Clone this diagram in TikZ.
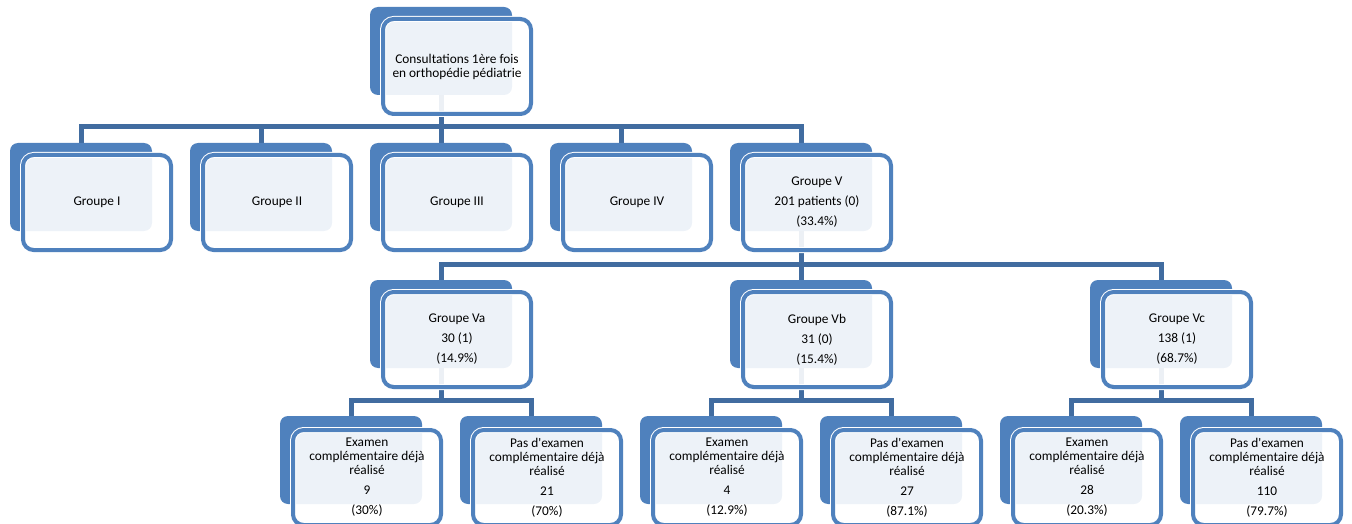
\documentclass[tikz,border=0pt]{standalone}
\usepackage{fontspec}
\setmainfont{Carlito}
\usepackage{tikz}
\usetikzlibrary{
    positioning,
    backgrounds
}
\definecolor{boxBlue}{RGB}{79, 129, 189}
\definecolor{linkBlue}{RGB}{65, 108, 160}

\begin{document}
\begin{tikzpicture}[x=0.75pt, y=-0.75pt,
    back/.style={fill=boxBlue, rounded corners=6pt, inner sep=0pt,
        minimum width=106.5pt, minimum height=66pt},
    front/.style={draw=boxBlue, line width=3pt, fill=white, fill opacity=0.9,
        text opacity=1, rounded corners=8pt, inner sep=0pt,
        preaction={draw=white, line width=4.5pt},
        minimum width=111pt, minimum height=71.25pt, align=center,
        font=\fontsize{10}{10.5}\selectfont},
    link/.style={draw=linkBlue, line width=3.75pt}
]
        \useasboundingbox (0,0) rectangle (1352,524);

        % top
        \node[back] (topB) at (441,51) {};
        \node[front] (top) at ([shift={(16,15.5)}]topB) {Consultations 1ère fois\\en orthopédie pédiatrie};

        % groupes
        \node[back] (gIB) at (81,187) {};
        \node[front] (gI) at ([shift={(16,15.5)}]gIB) {Groupe I};
        \node[back] (gIIB) at (261,187) {};
        \node[front] (gII) at ([shift={(16,15.5)}]gIIB) {Groupe II};
        \node[back] (gIIIB) at (441,187) {};
        \node[front] (gIII) at ([shift={(16,15.5)}]gIIIB) {Groupe III};
        \node[back] (gIVB) at (621,187) {};
        \node[front] (gIV) at ([shift={(16,15.5)}]gIVB) {Groupe IV};
        \node[back] (gVB) at (801,187) {};
        \node[front] (gV) at ([shift={(16,15.5)}]gVB) {Groupe V\\[4.5pt]201 patients (0)\\[4.5pt](33.4\%)};

        % sous-groupes
        \node[back] (gVaB) at (441,324) {};
        \node[front] (gVa) at ([shift={(16,15.5)}]gVaB) {Groupe Va\\[4.5pt]30 (1)\\[4.5pt](14.9\%)};
        \node[back] (gVbB) at (801,324) {};
        \node[front] (gVb) at ([shift={(16,15.5)}]gVbB) {Groupe Vb\\[4.5pt]31 (0)\\[4.5pt](15.4\%)};
        \node[back] (gVcB) at (1161,324) {};
        \node[front] (gVc) at ([shift={(16,15.5)}]gVcB) {Groupe Vc\\[4.5pt]138 (1)\\[4.5pt](68.7\%)};

        % examens
        \node[back] (exaB) at (351,460) {};
        \node[front] (exa) at ([shift={(16,17.5)}]exaB) {Examen\\complémentaire déjà\\réalisé\\[4.5pt]9\\[4.5pt](30\%)};
        \node[back] (noaB) at (531,460) {};
        \node[front] (noa) at ([shift={(16,17.5)}]noaB) {Pas d\textquotesingle examen\\complémentaire déjà\\réalisé\\[4.5pt]21\\[4.5pt](70\%)};
        \node[back] (exbB) at (711,460) {};
        \node[front] (exb) at ([shift={(16,17.5)}]exbB) {Examen\\complémentaire déjà\\réalisé\\[4.5pt]4\\[4.5pt](12.9\%)};
        \node[back] (nobB) at (891,460) {};
        \node[front] (nob) at ([shift={(16,17.5)}]nobB) {Pas d\textquotesingle examen\\complémentaire déjà\\réalisé\\[4.5pt]27\\[4.5pt](87.1\%)};
        \node[back] (excB) at (1071,460) {};
        \node[front] (exc) at ([shift={(16,17.5)}]excB) {Examen\\complémentaire déjà\\réalisé\\[4.5pt]28\\[4.5pt](20.3\%)};
        \node[back] (nocB) at (1251,460) {};
        \node[front] (noc) at ([shift={(16,17.5)}]nocB) {Pas d\textquotesingle examen\\complémentaire déjà\\réalisé\\[4.5pt]110\\[4.5pt](79.7\%)};

        % liens
        \begin{scope}[on background layer]
            \coordinate (bar1) at (0,127);
            \coordinate (bar2) at (0,264);
            \coordinate (bar3) at (0,400);
            \draw[link] (topB.center) -- (topB.center |- bar1) -| (gIB.north);
            \draw[link] (topB.center |- bar1) -| (gIIB.north);
            \draw[link] (topB.center |- bar1) -| (gIIIB.north);
            \draw[link] (topB.center |- bar1) -| (gIVB.north);
            \draw[link] (topB.center |- bar1) -| (gVB.north);
            \draw[link] (gVB.center) -- (gVB.center |- bar2) -| (gVaB.north);
            \draw[link] (gVB.center |- bar2) -| (gVbB.north);
            \draw[link] (gVB.center |- bar2) -| (gVcB.north);
            \draw[link] (gVaB.center) -- (gVaB.center |- bar3) -| (exaB.north);
            \draw[link] (gVaB.center |- bar3) -| (noaB.north);
            \draw[link] (gVbB.center) -- (gVbB.center |- bar3) -| (exbB.north);
            \draw[link] (gVbB.center |- bar3) -| (nobB.north);
            \draw[link] (gVcB.center) -- (gVcB.center |- bar3) -| (excB.north);
            \draw[link] (gVcB.center |- bar3) -| (nocB.north);
        \end{scope}
    \end{tikzpicture}
\end{document}
